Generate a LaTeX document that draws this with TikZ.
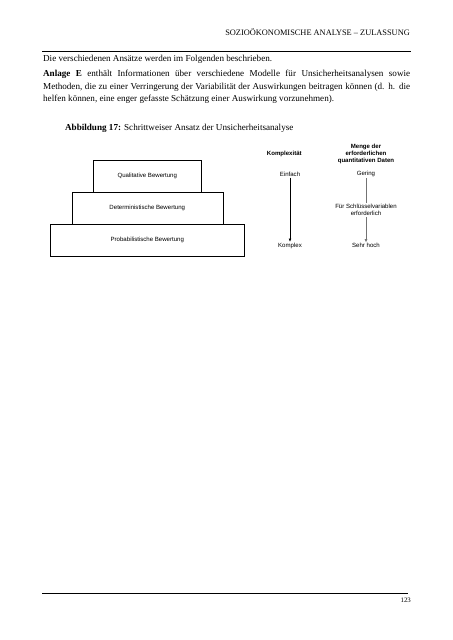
\documentclass[tikz,border=0pt]{standalone}
\usepackage{fontspec}
\setmainfont{Liberation Serif}
\setsansfont{Liberation Sans}
\usepackage{tikz}
\usetikzlibrary{
	arrows.meta,
	positioning,
}
\tikzset{body text/.style={anchor=base west,inner sep=0pt,font=\fontsize{12}{14}\selectfont}}
\tikzset{level box/.style={draw,rectangle,line width=0.6pt,outer sep=0pt,minimum height=32*1.317pt,font=\sffamily\fontsize{8}{9.6}\selectfont}}
\tikzset{column text/.style={align=center,inner sep=1.5pt,font=\sffamily\fontsize{8}{9.6}\selectfont}}
\tikzset{column head/.style={column text,font=\sffamily\bfseries\fontsize{8}{9.6}\selectfont}}
\tikzset{
	>={Triangle[length=4pt,width=3.2pt]},
	thick,
}

\begin{document}
\begin{tikzpicture}[x=1.317pt,y=-1.317pt]
\useasboundingbox (0,0) rectangle (452,640);

% page head
\node[anchor=base east,inner sep=0pt,font=\fontsize{11}{13}\selectfont](head) at (410,36){SOZIOÖKONOMISCHE ANALYSE – ZULASSUNG};
\draw[line width=1.5pt] (42,51.3) -- (411,51.3);

\node[body text](l1) at (43,62){Die verschiedenen Ansätze werden im Folgenden beschrieben.};
\node[body text](l2) at (43,77){\makebox[483.3pt][s]{\textbf{Anlage E} enthält Informationen über verschiedene Modelle für Unsicherheitsanalysen sowie}};
\node[body text](l3) at (43,89.5){\makebox[483.3pt][s]{Methoden, die zu einer Verringerung der Variabilität der Auswirkungen beitragen können (d. h. die}};
\node[body text](l4) at (43,101.5){helfen können, eine enger gefasste Schätzung einer Auswirkung vorzunehmen).};

\node[body text](caption) at (65,130.5){\textbf{Abbildung 17:} Schrittweiser Ansatz der Unsicherheitsanalyse};

% pyramid
\node[level box,minimum width=108*1.317pt](qual) at (147.3,176){Qualitative Bewertung};
\node[level box,minimum width=151*1.317pt,below=0pt of qual](det){Deterministische Bewertung};
\node[level box,minimum width=194*1.317pt,below=0pt of det](prob){Probabilistische Bewertung};

% columns
\node[column head](kplx) at (284.3,153.7){Komplexität};
\node[column text](einfach) at (290,174){Einfach};
\node[column text](komplex) at (290,245.7){Komplex};

\node[column head](menge) at (366,154){Menge der\\erforderlichen\\quantitativen Daten};
\node[column text](gering) at (366,174){Gering};
\node[column text](schluessel) at (366,210){Für Schlüsselvariablen\\erforderlich};
\node[column text](hoch) at (366,245.7){Sehr hoch};

\draw[->,line width=0.8pt] (einfach) -- (komplex);
\draw[line width=0.8pt,black!55] (gering) -- (schluessel);
\draw[->,line width=0.8pt,black!55] (schluessel) -- (hoch);

% page foot
\draw[line width=1pt] (42,593.3) -- (408,593.3);
\node[anchor=base east,inner sep=0pt,font=\fontsize{9}{11}\selectfont](page) at (411,602){123};
\end{tikzpicture}
\end{document}
